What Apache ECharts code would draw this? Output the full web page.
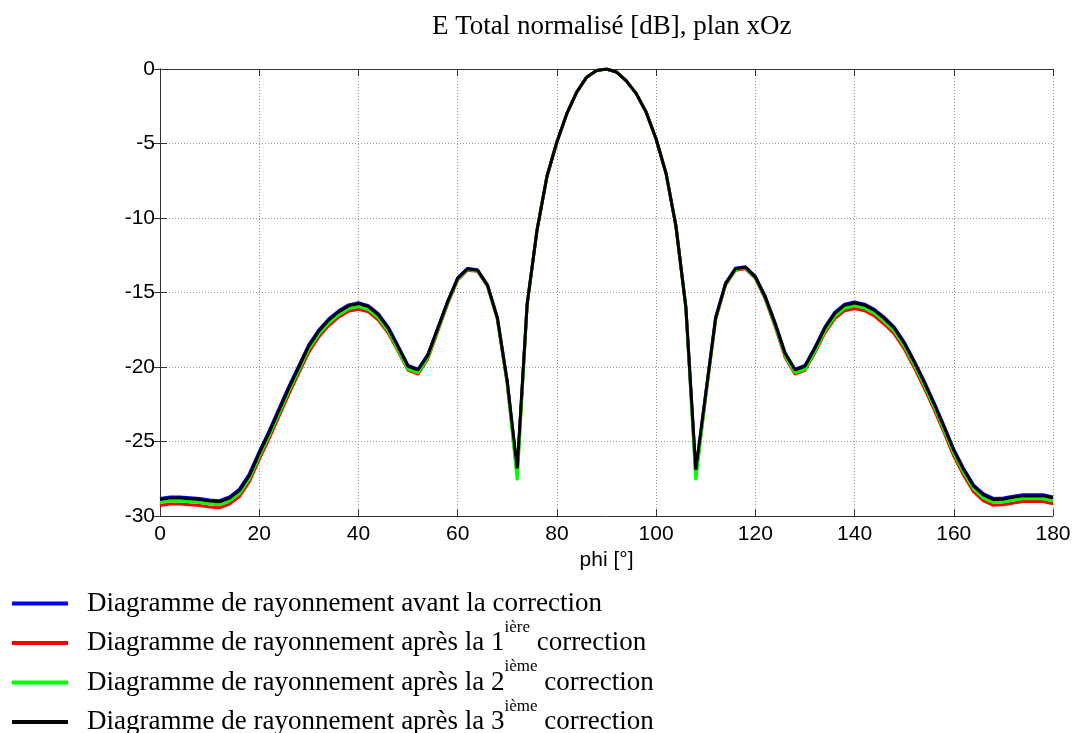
<html>
<head>
    <meta charset="utf-8">
    <script src="https://cdn.jsdelivr.net/npm/echarts@6/dist/echarts.min.js"></script>
</head>
<body style="margin:0">
<div id="main" style="width:1074px;height:733px;"></div>
<script>
    // angle samples, every 2 degrees
    var phi = [];
    for (var a = 0; a <= 180; a += 2) {
        phi.push(a);
    }

    // normalised E total [dB]
    var avant = [-28.82, -28.72, -28.72, -28.77, -28.82, -28.92, -28.97, -28.72, -28.20, -27.18,
        -25.68, -24.28, -22.78, -21.28, -19.90, -18.50, -17.52, -16.78, -16.23, -15.83,
        -15.68, -15.88, -16.42, -17.32, -18.58, -19.90, -20.15, -19.15, -17.37, -15.57,
        -14.02, -13.38, -13.48, -14.48, -16.68, -20.95, -26.95, -15.78, -10.80, -7.20,
        -4.90, -3.00, -1.55, -0.55, -0.10, 0.00, -0.20, -0.80, -1.65, -2.90,
        -4.70, -7.00, -10.55, -15.98, -27.00, -21.75, -16.66, -14.37, -13.37, -13.27,
        -13.92, -15.25, -17.05, -19.05, -20.15, -19.90, -18.68, -17.32, -16.33, -15.78,
        -15.63, -15.78, -16.13, -16.67, -17.32, -18.32, -19.57, -20.92, -22.37, -23.92,
        -25.52, -26.82, -27.92, -28.52, -28.82, -28.79, -28.67, -28.57, -28.57, -28.57, -28.72];

    var corr1 = [-29.30, -29.20, -29.20, -29.25, -29.30, -29.40, -29.45, -29.20, -28.70, -27.70,
        -26.20, -24.80, -23.30, -21.80, -20.40, -19.00, -17.98, -17.22, -16.66, -16.26,
        -16.12, -16.30, -16.85, -17.72, -18.95, -20.22, -20.48, -19.45, -17.60, -15.75,
        -14.15, -13.50, -13.58, -14.56, -16.80, -21.15, -27.30, -15.85, -10.80, -7.20,
        -4.90, -3.00, -1.55, -0.55, -0.10, 0.00, -0.20, -0.80, -1.65, -2.90,
        -4.70, -7.00, -10.55, -16.05, -27.35, -22.00, -16.82, -14.50, -13.50, -13.40,
        -14.05, -15.45, -17.30, -19.35, -20.48, -20.22, -19.05, -17.72, -16.75, -16.22,
        -16.08, -16.22, -16.58, -17.13, -17.78, -18.78, -20.03, -21.38, -22.83, -24.38,
        -25.98, -27.28, -28.38, -28.98, -29.28, -29.25, -29.13, -29.03, -29.03, -29.03, -29.18];

    var corr2 = [-29.10, -29.00, -29.00, -29.05, -29.10, -29.20, -29.25, -29.00, -28.50, -27.50,
        -26.00, -24.60, -23.10, -21.60, -20.20, -18.80, -17.80, -17.05, -16.50, -16.10,
        -15.95, -16.15, -16.70, -17.60, -18.85, -20.15, -20.40, -19.35, -17.52, -15.70,
        -14.12, -13.46, -13.55, -14.53, -16.75, -21.10, -27.60, -15.82, -10.80, -7.20,
        -4.90, -3.00, -1.55, -0.55, -0.10, 0.00, -0.20, -0.80, -1.65, -2.90,
        -4.70, -7.00, -10.55, -16.02, -27.60, -21.90, -16.76, -14.46, -13.46, -13.36,
        -14.01, -15.40, -17.22, -19.25, -20.40, -20.15, -18.95, -17.60, -16.60, -16.05,
        -15.90, -16.05, -16.40, -16.95, -17.60, -18.60, -19.85, -21.20, -22.65, -24.20,
        -25.80, -27.10, -28.20, -28.80, -29.10, -29.07, -28.95, -28.85, -28.85, -28.85, -29.00];

    var corr3 = [-28.90, -28.80, -28.80, -28.85, -28.90, -29.00, -29.05, -28.80, -28.30, -27.30,
        -25.80, -24.40, -22.90, -21.40, -20.00, -18.60, -17.60, -16.85, -16.30, -15.90,
        -15.75, -15.95, -16.50, -17.40, -18.65, -19.95, -20.20, -19.20, -17.40, -15.60,
        -14.05, -13.40, -13.50, -14.50, -16.70, -21.00, -26.80, -15.80, -10.80, -7.20,
        -4.90, -3.00, -1.55, -0.55, -0.10, 0.00, -0.20, -0.80, -1.65, -2.90,
        -4.70, -7.00, -10.55, -16.00, -26.90, -21.80, -16.70, -14.40, -13.40, -13.30,
        -13.95, -15.30, -17.10, -19.10, -20.20, -19.95, -18.75, -17.40, -16.40, -15.85,
        -15.70, -15.85, -16.20, -16.75, -17.40, -18.40, -19.65, -21.00, -22.45, -24.00,
        -25.60, -26.90, -28.00, -28.60, -28.90, -28.87, -28.75, -28.65, -28.65, -28.65, -28.80];

    var seriesNames = [
        'Diagramme de rayonnement avant la correction',
        'Diagramme de rayonnement après la 1ière correction',
        'Diagramme de rayonnement après la 2ième correction',
        'Diagramme de rayonnement après la 3ième correction'
    ];
    var legendHead = [
        'Diagramme de rayonnement avant la correction',
        'Diagramme de rayonnement après la 1',
        'Diagramme de rayonnement après la 2',
        'Diagramme de rayonnement après la 3'
    ];
    var legendSup = ['', 'ière', 'ième', 'ième'];
    var colors = ['#0000ff', '#ff0000', '#00ff00', '#000000'];
    var values = [avant, corr1, corr2, corr3];

    var chart = echarts.init(document.getElementById('main'));

    var pairs = function (ys) {
        return phi.map(function (x, i) {
            return [x, ys[i]];
        });
    };

    var series = values.map(function (ys, k) {
        return {
            name: seriesNames[k],
            type: 'line',
            data: pairs(ys),
            showSymbol: false,
            symbol: 'none',
            color: colors[k],
            lineStyle: {width: 3, color: colors[k]},
            z: 2 + k
        };
    });

    var sideAxis = {
        axisLine: {show: true, lineStyle: {color: '#333', width: 1}},
        axisTick: {show: true, inside: true, length: 7, lineStyle: {color: '#333'}},
        axisLabel: {show: false},
        splitLine: {show: false}
    };

    var tickFont = {
        fontFamily: 'Liberation Sans',
        fontSize: 21,
        color: '#000'
    };

    var option = {
        animation: false,
        backgroundColor: '#fff',
        title: {
            text: 'E Total normalisé [dB], plan xOz',
            left: 427,
            top: 8,
            textStyle: {
                fontFamily: 'Liberation Serif',
                fontWeight: 'normal',
                fontSize: 27,
                color: '#000'
            }
        },
        grid: {
            left: 160,
            right: 21,
            top: 69,
            bottom: 217
        },
        legend: {
            orient: 'vertical',
            left: 12,
            top: 590,
            height: 300,
            padding: 0,
            itemGap: 2,
            icon: 'rect',
            itemWidth: 56,
            itemHeight: 4,
            selectedMode: false,
            data: seriesNames.map(function (n, k) {
                return {name: n, itemStyle: {color: colors[k]}};
            }),
            formatter: function (name) {
                var k = seriesNames.indexOf(name);
                var s = '{g|}{t|' + legendHead[k] + '}';
                if (legendSup[k]) {
                    s += '{s|' + legendSup[k] + '}{t| correction}';
                }
                return s;
            },
            textStyle: {
                rich: {
                    g: {width: 14},
                    t: {
                        fontFamily: 'Liberation Serif',
                        fontSize: 27,
                        lineHeight: 48,
                        color: '#000'
                    },
                    s: {
                        fontFamily: 'Liberation Serif',
                        fontSize: 17,
                        lineHeight: 1,
                        verticalAlign: 'top',
                        color: '#000'
                    }
                }
            }
        },
        xAxis: [{
            type: 'value',
            min: 0,
            max: 180,
            interval: 20,
            name: 'phi [°]',
            nameLocation: 'middle',
            nameGap: 22,
            nameTextStyle: tickFont,
            axisLine: {show: true, onZero: false, lineStyle: {color: '#333', width: 1}},
            axisTick: {show: true, inside: true, length: 7, lineStyle: {color: '#333'}},
            axisLabel: Object.assign({margin: 8}, tickFont),
            splitLine: {
                show: true,
                lineStyle: {color: '#999', width: 1, type: [1, 2]}
            }
        }, Object.assign({
            type: 'value',
            position: 'top',
            min: 0,
            max: 180,
            interval: 20
        }, sideAxis)],
        yAxis: [{
            type: 'value',
            min: -30,
            max: 0,
            interval: 5,
            axisLine: {show: true, onZero: false, lineStyle: {color: '#333', width: 1}},
            axisTick: {show: true, inside: true, length: 7, lineStyle: {color: '#333'}},
            axisLabel: Object.assign({margin: 5}, tickFont),
            splitLine: {
                show: true,
                lineStyle: {color: '#999', width: 1, type: [1, 2]}
            }
        }, Object.assign({
            type: 'value',
            position: 'right',
            min: -30,
            max: 0,
            interval: 5
        }, sideAxis)],
        series: series
    };

    chart.setOption(option);
</script>
</body>
</html>
